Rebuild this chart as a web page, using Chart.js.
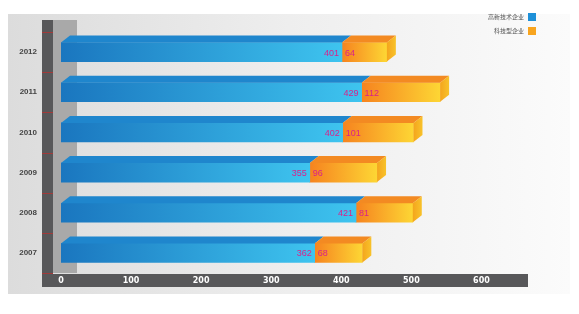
<!DOCTYPE html>
<html>
<head>
<meta charset="utf-8">
<script src="https://cdn.jsdelivr.net/npm/chart.js@4.4.1/dist/chart.umd.min.js"></script>
<style>
  html, body { margin: 0; padding: 0; background: #fff; }
  #wrap { width: 579px; height: 314px; }
</style>
</head>
<body>
<div id="wrap"><canvas id="barChart"></canvas></div>
<script>
const years = ['2012', '2011', '2010', '2009', '2008', '2007'];
const seriesA = [401, 429, 402, 355, 421, 362];
const seriesB = [64, 112, 101, 96, 81, 68];
const seriesNames = ['高新技术企业', '科技型企业'];
const xTicks = [0, 100, 200, 300, 400, 500, 600];

const DX = 9, DY = 7;

function barGradient(context, from, to, stops) {
    const chart = context.chart;
    if (!chart.chartArea) return stops[0];
    const xs = chart.scales.x;
    const i = context.dataIndex;
    const start = context.datasetIndex === 0 ? 0 : seriesA[i];
    const end = context.datasetIndex === 0 ? seriesA[i] : seriesA[i] + seriesB[i];
    const x0 = xs.getPixelForValue(start), x1 = xs.getPixelForValue(end);
    const g = chart.ctx.createLinearGradient(x0, 0, Math.max(x1, x0 + 1), 0);
    g.addColorStop(0, stops[0]);
    g.addColorStop(1, stops[1]);
    return g;
}

const decor = {
    id: 'decor',
    beforeDraw(chart) {
        const c = chart.ctx, a = chart.chartArea;
        c.save();
        // panel
        const pg = c.createLinearGradient(8, 0, 570, 0);
        pg.addColorStop(0, '#dcdcdc');
        pg.addColorStop(0.5, '#eeeeee');
        pg.addColorStop(1, '#fbfbfb');
        c.fillStyle = pg;
        c.fillRect(8, 14, 562, 280);
        // light band
        c.fillStyle = '#a9a9a9';
        c.fillRect(53, 20, 24, a.bottom - 20);
        // dark bar + bottom strip
        c.fillStyle = '#58585a';
        c.fillRect(42, 20, 11, 267);
        c.fillRect(42, 274, 486, 13);
        // red ticks on dark bar
        c.strokeStyle = '#a33a3a';
        c.lineWidth = 1;
        const ys = chart.scales.y;
        for (let i = 0; i <= years.length; i++) {
            const y = Math.round(ys.top + i * (ys.height / years.length)) + 0.5;
            c.beginPath();
            c.moveTo(42, y);
            c.lineTo(53, y);
            c.stroke();
        }
        c.restore();
    },
    afterDatasetsDraw(chart) {
        const c = chart.ctx;
        const m0 = chart.getDatasetMeta(0).data;
        const m1 = chart.getDatasetMeta(1).data;
        c.save();
        m0.forEach((bar, i) => {
            const top = bar.y - bar.height / 2, bot = bar.y + bar.height / 2;
            const ob = m1[i];
            // blue top face
            c.fillStyle = '#1f86cd';
            c.beginPath();
            c.moveTo(bar.base, top);
            c.lineTo(bar.x, top);
            c.lineTo(bar.x + DX, top - DY);
            c.lineTo(bar.base + DX, top - DY);
            c.closePath();
            c.fill();
            // orange top face
            c.fillStyle = '#f38a22';
            c.beginPath();
            c.moveTo(ob.base, top);
            c.lineTo(ob.x, top);
            c.lineTo(ob.x + DX, top - DY);
            c.lineTo(ob.base + DX, top - DY);
            c.closePath();
            c.fill();
            // side face
            const sg = c.createLinearGradient(ob.x, 0, ob.x + DX, 0);
            sg.addColorStop(0, '#f4a51d');
            sg.addColorStop(1, '#f8c22a');
            c.fillStyle = sg;
            c.beginPath();
            c.moveTo(ob.x, top);
            c.lineTo(ob.x + DX, top - DY);
            c.lineTo(ob.x + DX, bot - DY);
            c.lineTo(ob.x, bot);
            c.closePath();
            c.fill();
            // values
            c.fillStyle = '#d8238a';
            c.font = '9px "Liberation Sans", Arial, sans-serif';
            c.textBaseline = 'middle';
            c.textAlign = 'right';
            c.fillText(String(seriesA[i]), bar.x - 3, bar.y + 1);
            c.textAlign = 'left';
            c.fillText(String(seriesB[i]), ob.base + 3, bar.y + 1);
        });
        // legend
        const legendColors = ['#1e90d8', '#f8a51f'];
        c.font = '6px "Noto Sans CJK SC", sans-serif';
        c.textAlign = 'right';
        c.textBaseline = 'middle';
        seriesNames.forEach((name, k) => {
            const y = 17 + k * 14;
            c.fillStyle = '#555';
            c.fillText(name, 524, y);
            c.fillStyle = legendColors[k];
            c.fillRect(528, y - 4, 8, 8);
        });
        c.restore();
    }
};

const ctx = document.getElementById('barChart').getContext('2d');
const barChart = new Chart(ctx, {
    type: 'bar',
    data: {
        labels: years,
        datasets: [
            {
                label: seriesNames[0],
                data: seriesA,
                backgroundColor: (c) => barGradient(c, 0, 1, ['#1a76bf', '#3ec4ef']),
                barThickness: 19,
            },
            {
                label: seriesNames[1],
                data: seriesB,
                backgroundColor: (c) => barGradient(c, 0, 1, ['#f6831f', '#fdd634']),
                barThickness: 19,
            },
        ],
    },
    options: {
        indexAxis: 'y',
        responsive: true,
        maintainAspectRatio: false,
        animation: false,
        layout: { padding: { left: 8, right: 52, top: 32, bottom: 27 } },
        scales: {
            x: {
                stacked: true,
                min: 0,
                max: 665,
                afterFit: (s) => { s.height = 14; },
                afterBuildTicks: (s) => { s.ticks = xTicks.map(v => ({ value: v })); },
                grid: { display: false, drawTicks: false },
                border: { display: false },
                ticks: {
                    color: '#ffffff',
                    padding: 3,
                    font: { size: 8, weight: 'bold', family: 'Verdana, "DejaVu Sans", sans-serif' },
                },
            },
            y: {
                stacked: true,
                afterFit: (s) => { s.width = 53; },
                grid: { display: false, drawTicks: false },
                border: { display: false },
                ticks: {
                    color: '#444',
                    padding: 24,
                    font: { size: 8, weight: 'bold', family: '"Liberation Sans", Arial, sans-serif' },
                },
            },
        },
        plugins: {
            legend: { display: false },
            tooltip: { enabled: false },
        },
    },
    plugins: [decor],
});
</script>
</body>
</html>
